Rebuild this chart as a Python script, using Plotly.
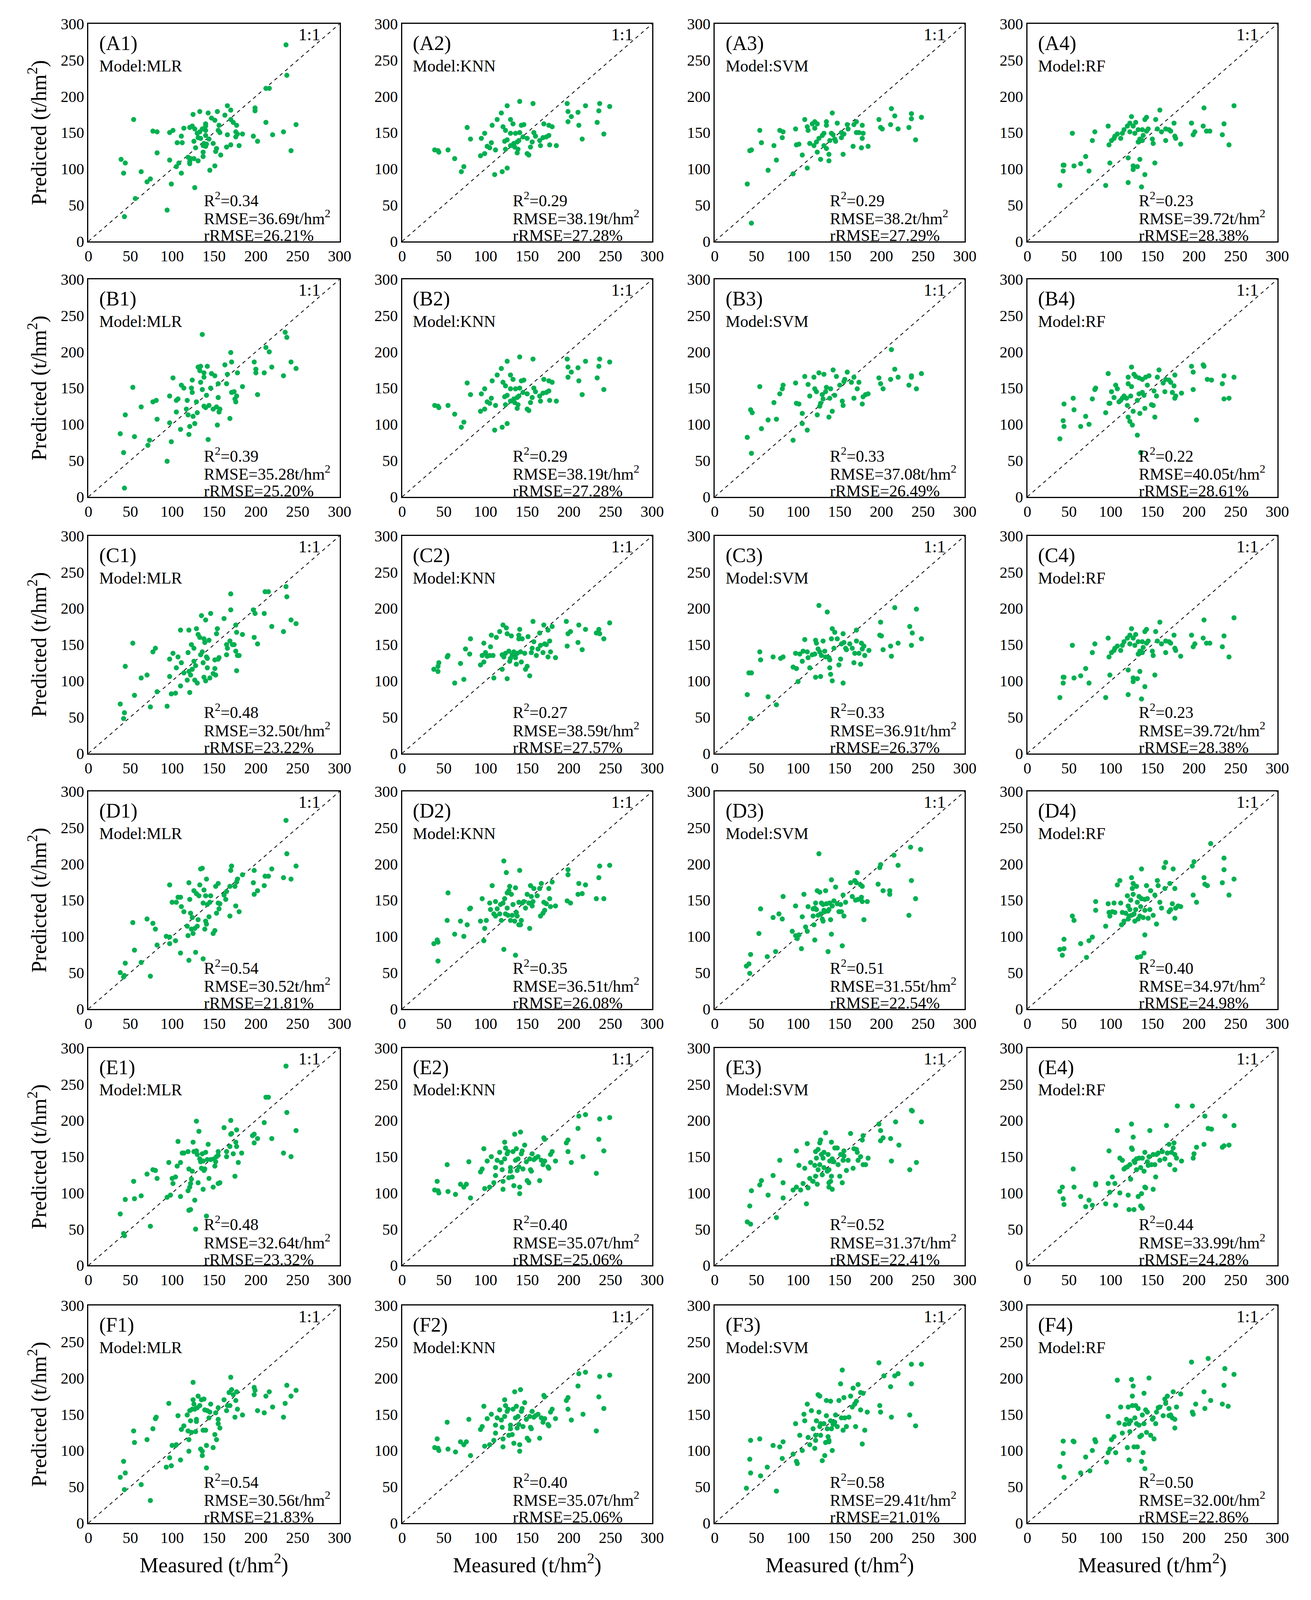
import plotly.graph_objects as go

A1 = [(236,271),(237,229),(212,211),(216,211),(166,187),(170,181),(199,184),(199,180),(133,179),(154,179),(143,177),(125,175),(163,174),(147,170),(151,167),(54,168),(170,168),(173,164),(212,164),(248,161),(140,162),(156,160),(177,160),(140,159),(124,159),(121,157),(114,156),(127,155),(136,155),(155,153),(140,153),(77,152),(82,151),(101,153),(97,150),(133,151),(130,149),(157,150),(176,151),(178,148),(184,148),(166,147),(220,147),(233,151),(140,146),(111,145),(197,145),(176,144),(131,143),(134,142),(144,141),(202,138),(106,136),(112,136),(126,138),(149,135),(138,135),(141,134),(170,133),(180,132),(137,132),(140,131),(165,130),(128,129),(153,128),(152,124),(82,122),(137,123),(242,125),(158,119),(137,117),(119,116),(126,114),(122,114),(39,113),(97,112),(131,111),(121,110),(44,108),(121,107),(108,108),(151,104),(105,103),(145,98),(63,96),(42,94),(111,94),(74,86),(70,82),(99,79),(127,74),(56,59),(94,43),(43,34)]
A2 = [(39,126),(44,123),(43,125),(55,126),(63,114),(74,103),(71,96),(78,157),(82,141),(94,118),(99,121),(99,149),(95,142),(102,131),(107,136),(105,129),(111,92),(112,126),(108,160),(114,168),(119,177),(126,187),(120,96),(126,101),(121,158),(124,153),(130,168),(133,162),(123,138),(126,140),(124,127),(130,132),(134,135),(138,137),(140,139),(135,130),(139,127),(138,122),(130,149),(136,149),(141,150),(141,193),(143,160),(146,161),(145,144),(150,142),(150,121),(152,119),(154,130),(156,137),(157,190),(158,150),(160,145),(165,139),(166,132),(169,143),(173,144),(176,146),(180,158),(170,162),(176,160),(177,133),(185,132),(198,190),(199,179),(199,165),(203,172),(211,178),(212,160),(216,141),(220,187),(234,164),(236,180),(237,190),(242,148),(249,186)]
A3 = [(39,79),(44,25),(42,125),(44,126),(54,153),(56,136),(64,98),(71,132),(74,112),(78,153),(82,151),(81,143),(94,93),(97,155),(98,133),(101,134),(105,119),(108,168),(111,101),(111,158),(112,153),(114,135),(117,162),(120,165),(120,156),(123,162),(119,132),(122,137),(123,123),(125,142),(127,113),(129,146),(131,149),(131,132),(134,160),(134,165),(134,128),(137,111),(137,120),(138,139),(141,177),(140,149),(142,147),(144,141),(145,138),(147,163),(154,120),(152,143),(152,150),(155,148),(159,161),(160,155),(166,131),(167,161),(170,165),(170,150),(173,150),(176,129),(177,160),(177,142),(178,149),(184,131),(197,168),(199,157),(201,155),(211,161),(212,183),(216,173),(220,155),(233,157),(236,176),(236,169),(241,140),(248,171)]
A4 = [(39,77),(43,105),(44,105),(43,97),(54,149),(56,104),(64,107),(70,117),(74,97),(78,139),(81,151),(94,77),(97,159),(98,133),(99,108),(101,139),(105,145),(104,142),(108,148),(112,142),(114,149),(116,154),(120,159),(121,115),(121,81),(123,163),(123,151),(125,172),(127,159),(127,104),(127,99),(129,149),(130,164),(132,103),(133,154),(135,113),(133,137),(135,141),(137,75),(138,154),(138,139),(139,146),(141,168),(143,171),(141,92),(143,152),(145,155),(150,141),(151,135),(153,108),(154,168),(156,155),(159,181),(161,151),(166,155),(166,139),(170,154),(172,152),(176,163),(177,145),(178,142),(184,134),(197,163),(199,147),(201,151),(212,184),(211,159),(215,152),(219,152),(236,162),(234,147),(242,133),(248,187)]
B1 = [(43,12),(42,61),(38,87),(44,113),(53,151),(55,83),(63,124),(71,71),(73,78),(77,131),(81,133),(82,107),(94,49),(97,102),(99,76),(97,139),(101,164),(105,133),(107,135),(105,117),(110,93),(111,154),(114,150),(117,121),(118,133),(120,86),(121,97),(119,113),(123,150),(124,144),(124,161),(125,111),(127,101),(129,131),(130,116),(131,179),(134,180),(136,224),(133,174),(134,158),(136,148),(138,171),(138,165),(138,125),(140,123),(141,140),(143,79),(144,126),(142,180),(146,150),(147,170),(149,121),(151,167),(153,124),(154,99),(155,156),(157,121),(156,117),(155,137),(163,182),(165,156),(166,169),(170,199),(171,186),(169,108),(171,144),(174,145),(175,135),(176,131),(177,139),(178,171),(184,152),(198,186),(200,176),(202,141),(200,171),(210,171),(212,206),(216,200),(219,179),(233,167),(235,227),(237,220),(242,186),(248,177)]
B3 = [(39,82),(44,60),(43,120),(45,116),(54,152),(56,94),(64,106),(71,130),(74,107),(78,142),(81,149),(82,154),(94,78),(97,157),(98,129),(101,128),(105,115),(105,101),(108,166),(111,92),(112,155),(114,139),(119,165),(120,149),(122,145),(123,113),(125,171),(126,125),(127,129),(129,141),(131,169),(130,135),(133,145),(134,151),(137,110),(138,136),(139,149),(141,118),(142,175),(144,140),(146,166),(150,154),(153,132),(154,126),(155,159),(156,162),(159,172),(164,158),(167,165),(167,136),(171,149),(173,158),(177,128),(178,138),(181,141),(184,142),(197,164),(199,156),(202,149),(211,162),(212,203),(216,176),(220,165),(233,154),(236,167),(236,165),(242,149),(248,170)]
B4 = [(39,80),(43,105),(44,97),(44,128),(55,136),(56,120),(64,97),(70,111),(74,100),(78,135),(81,148),(82,150),(94,116),(97,170),(98,129),(99,129),(101,145),(104,137),(106,154),(108,149),(110,131),(112,133),(114,136),(116,139),(119,136),(120,126),(121,165),(121,156),(121,110),(123,104),(124,139),(125,179),(125,152),(126,99),(127,118),(128,169),(130,166),(132,133),(132,85),(134,164),(134,142),(135,115),(136,61),(138,162),(138,144),(140,140),(141,122),(142,165),(144,154),(146,167),(149,127),(151,126),(152,146),(153,110),(155,139),(156,165),(158,175),(163,157),(165,145),(166,162),(170,161),(172,158),(174,144),(176,153),(177,136),(178,139),(177,168),(185,143),(197,180),(199,172),(199,148),(203,106),(211,182),(212,180),(216,162),(221,161),(234,156),(236,167),(236,135),(242,136),(248,165)]
C1 = [(38,68),(43,56),(42,48),(44,120),(53,152),(55,80),(63,104),(70,108),(74,64),(77,140),(80,145),(82,85),(94,65),(97,130),(97,106),(99,82),(101,138),(104,83),(105,118),(107,133),(110,170),(110,93),(111,125),(114,111),(118,101),(119,139),(120,113),(120,170),(121,84),(122,108),(123,150),(124,116),(126,145),(126,127),(127,101),(128,121),(129,172),(130,97),(131,164),(133,160),(134,136),(135,190),(136,140),(137,125),(138,105),(138,158),(139,153),(140,100),(140,184),(141,133),(142,131),(142,118),(144,156),(145,104),(146,193),(149,110),(151,129),(151,117),(152,108),(153,165),(154,172),(155,130),(156,132),(162,186),(165,150),(165,136),(166,145),(169,155),(170,220),(170,198),(172,150),(174,150),(176,177),(176,141),(178,135),(177,167),(177,114),(180,135),(184,164),(197,198),(198,160),(199,193),(202,151),(210,193),(211,223),(215,223),(219,175),(233,168),(236,230),(237,216),(242,184),(248,179)]
C2 = [(38,116),(43,113),(43,120),(44,125),(54,133),(55,135),(63,97),(70,124),(74,102),(76,144),(81,137),(82,158),(94,122),(96,135),(98,126),(98,152),(100,139),(102,134),(105,135),(106,147),(107,163),(109,135),(110,104),(113,160),(117,168),(121,177),(120,136),(120,116),(122,133),(124,138),(125,173),(126,165),(126,103),(128,141),(129,127),(130,131),(131,162),(132,136),(134,140),(136,132),(137,123),(138,138),(140,163),(140,158),(141,171),(142,140),(143,126),(144,158),(147,138),(148,116),(150,120),(151,161),(153,107),(155,139),(156,145),(157,182),(158,154),(161,135),(163,144),(165,166),(166,149),(169,139),(170,177),(171,151),(173,150),(175,170),(175,133),(177,155),(178,140),(180,175),(184,132),(197,182),(198,148),(199,165),(202,168),(212,177),(211,153),(216,143),(220,171),(233,166),(236,171),(237,165),(242,158),(249,180)]
C3 = [(39,81),(41,111),(44,111),(43,48),(54,140),(55,129),(64,78),(70,133),(74,67),(79,131),(82,133),(94,119),(98,117),(97,138),(100,99),(102,137),(105,127),(106,141),(108,157),(111,140),(112,132),(114,118),(117,136),(120,137),(121,105),(121,156),(122,152),(124,144),(125,204),(127,106),(126,140),(128,135),(130,155),(132,141),(133,133),(135,195),(137,132),(138,118),(138,129),(139,109),(141,172),(140,158),(141,100),(143,145),(144,167),(147,158),(149,122),(151,130),(152,151),(154,165),(155,153),(157,145),(158,143),(154,97),(162,151),(165,145),(167,125),(168,138),(170,155),(170,170),(173,138),(175,123),(176,152),(177,144),(179,148),(180,135),(185,142),(198,163),(199,181),(200,162),(202,143),(211,148),(212,134),(216,201),(220,152),(234,175),(236,149),(237,166),(242,199),(248,158)]
D1 = [(38,50),(43,46),(42,44),(44,63),(53,119),(55,81),(63,64),(70,124),(74,45),(77,118),(80,110),(82,88),(93,100),(97,99),(97,90),(97,171),(100,147),(104,94),(105,147),(107,154),(110,77),(110,154),(111,141),(114,134),(118,114),(119,101),(120,67),(120,174),(121,151),(122,132),(123,110),(124,126),(125,104),(126,163),(127,111),(128,78),(129,159),(130,114),(131,123),(132,156),(133,171),(134,193),(136,194),(137,146),(137,69),(138,164),(139,110),(140,121),(140,156),(141,117),(141,179),(142,144),(144,127),(145,147),(146,156),(149,104),(151,108),(152,169),(153,132),(155,146),(155,173),(156,138),(157,145),(162,157),(164,151),(165,162),(169,128),(170,191),(171,197),(169,169),(175,169),(176,142),(177,175),(178,179),(180,134),(184,185),(197,174),(198,191),(198,158),(202,163),(210,170),(211,183),(215,183),(219,193),(233,181),(236,260),(237,214),(242,179),(248,197)]
D2 = [(38,90),(42,95),(43,92),(43,66),(54,122),(55,160),(63,103),(70,121),(74,100),(78,116),(81,138),(82,139),(94,121),(96,152),(98,94),(99,111),(101,122),(105,146),(106,137),(108,170),(110,131),(112,128),(112,148),(114,138),(117,131),(118,144),(119,122),(121,146),(122,204),(122,82),(123,152),(124,131),(125,188),(126,139),(126,160),(127,129),(128,163),(129,169),(130,122),(131,158),(132,129),(133,144),(135,121),(136,167),(136,74),(137,133),(138,128),(140,116),(140,147),(141,191),(142,116),(143,122),(144,146),(146,148),(148,139),(150,158),(152,146),(153,111),(154,170),(155,155),(156,142),(157,148),(158,166),(162,156),(165,166),(166,128),(167,173),(169,132),(170,147),(171,136),(173,145),(176,166),(177,152),(178,141),(180,175),(184,142),(198,149),(199,192),(199,185),(202,146),(211,158),(212,173),(216,159),(220,171),(233,152),(236,181),(237,197),(242,152),(249,198)]
D3 = [(38,59),(41,62),(43,75),(42,49),(53,104),(55,138),(63,72),(70,126),(73,79),(77,131),(81,124),(82,155),(93,107),(97,142),(97,101),(99,97),(101,102),(104,83),(105,127),(107,158),(109,113),(111,107),(112,141),(118,128),(118,138),(119,116),(120,139),(120,95),(121,146),(122,137),(123,163),(124,129),(125,214),(126,161),(127,131),(128,146),(129,124),(130,121),(130,144),(131,136),(132,134),(133,163),(134,145),(136,135),(136,79),(137,137),(138,146),(139,123),(140,178),(140,103),(141,142),(143,149),(145,168),(147,145),(149,134),(151,144),(152,134),(154,157),(153,87),(155,128),(157,147),(163,174),(165,155),(168,177),(169,150),(170,174),(171,188),(172,151),(175,171),(176,154),(177,148),(179,123),(177,169),(183,148),(196,172),(198,195),(199,199),(202,163),(210,163),(210,158),(215,212),(220,198),(233,129),(235,223),(236,177),(241,152),(247,220)]
D4 = [(39,82),(42,74),(44,83),(44,96),(54,128),(56,122),(64,90),(71,71),(74,94),(78,99),(82,148),(82,136),(94,114),(97,145),(98,133),(99,128),(102,134),(104,146),(105,133),(108,171),(111,177),(112,146),(113,116),(114,133),(116,121),(118,132),(120,156),(121,124),(121,142),(122,128),(123,137),(124,150),(125,129),(125,181),(126,166),(127,173),(127,158),(128,131),(129,121),(130,137),(131,169),(132,147),(132,71),(133,124),(134,155),(135,128),(136,141),(136,72),(137,193),(137,152),(139,126),(140,77),(141,151),(141,136),(141,102),(143,170),(144,152),(145,125),(147,137),(148,163),(151,129),(153,157),(155,117),(156,177),(157,170),(159,147),(161,139),(164,195),(165,166),(166,202),(170,134),(171,173),(172,137),(174,145),(175,193),(177,125),(177,166),(178,139),(181,142),(184,141),(198,197),(199,157),(200,203),(203,147),(212,181),(213,172),(216,170),(220,228),(234,174),(236,208),(236,192),(242,157),(248,179)]
E1 = [(38,71),(42,44),(43,41),(44,91),(54,116),(55,92),(63,96),(70,126),(74,54),(77,132),(80,131),(82,120),(94,94),(96,142),(98,97),(100,120),(101,113),(104,122),(106,137),(107,171),(110,95),(110,142),(112,155),(114,155),(119,157),(120,133),(120,76),(122,77),(119,103),(121,108),(122,113),(123,119),(124,130),(125,170),(126,157),(127,90),(128,50),(129,158),(129,199),(130,153),(131,114),(132,185),(133,147),(134,143),(135,134),(136,154),(137,144),(137,105),(138,131),(139,133),(140,156),(141,68),(142,146),(143,167),(144,120),(146,146),(149,108),(150,147),(151,137),(152,143),(153,150),(155,152),(155,157),(155,113),(157,114),(162,190),(165,150),(165,157),(169,164),(170,181),(170,200),(171,182),(173,154),(175,123),(176,170),(177,187),(177,164),(179,142),(183,155),(196,179),(198,181),(198,169),(202,175),(210,197),(212,232),(215,232),(219,175),(233,155),(236,275),(237,211),(242,150),(248,186)]
E2 = [(39,104),(42,116),(43,103),(44,100),(54,139),(55,102),(64,98),(70,112),(74,108),(77,112),(80,143),(82,93),(94,129),(96,133),(98,161),(99,106),(102,144),(105,108),(107,150),(110,114),(112,124),(112,135),(114,145),(117,156),(119,142),(120,132),(121,116),(121,105),(123,170),(123,147),(124,162),(126,154),(127,157),(128,121),(130,130),(130,135),(132,122),(133,157),(134,110),(135,181),(136,145),(137,161),(138,131),(139,147),(140,136),(141,108),(141,99),(142,184),(143,154),(144,158),(145,133),(147,166),(149,143),(150,117),(152,114),(153,147),(154,132),(155,130),(156,154),(158,146),(160,148),(163,150),(165,117),(167,145),(169,139),(170,176),(171,174),(171,144),(175,136),(176,134),(178,153),(180,157),(184,144),(197,169),(199,173),(199,157),(203,142),(211,189),(212,206),(220,208),(217,150),(233,127),(236,174),(237,202),(242,158),(249,204)]
E3 = [(39,60),(43,57),(42,82),(44,103),(54,111),(56,117),(64,97),(70,124),(74,66),(78,145),(82,114),(82,93),(94,104),(98,108),(98,158),(101,138),(103,104),(106,113),(108,134),(111,168),(110,85),(112,107),(114,120),(115,142),(118,116),(120,138),(121,123),(121,157),(122,148),(123,112),(124,160),(124,132),(126,169),(126,139),(127,173),(128,153),(129,125),(130,148),(131,135),(131,156),(133,183),(135,130),(136,153),(137,114),(137,108),(137,132),(138,144),(139,116),(140,123),(140,170),(141,105),(141,147),(143,143),(144,162),(147,162),(148,139),(150,123),(151,153),(153,114),(154,145),(155,158),(155,151),(158,131),(160,145),(163,182),(166,134),(167,161),(170,160),(171,156),(172,145),(175,150),(177,173),(178,179),(178,139),(181,139),(184,148),(197,195),(199,186),(199,172),(202,176),(211,175),(212,144),(217,198),(221,166),(234,132),(236,214),(237,213),(242,142),(248,198)]
E4 = [(39,102),(42,108),(43,92),(44,84),(55,133),(56,108),(64,95),(70,81),(74,90),(78,83),(82,113),(82,111),(94,85),(97,113),(98,158),(99,101),(102,122),(105,113),(106,83),(108,186),(111,100),(111,148),(114,145),(116,133),(118,135),(120,136),(121,97),(122,77),(123,139),(124,119),(125,195),(125,162),(126,160),(127,177),(128,144),(128,77),(129,142),(131,147),(131,132),(133,95),(134,148),(136,82),(136,135),(137,99),(138,79),(138,148),(140,130),(141,108),(141,156),(142,107),(144,143),(145,138),(146,150),(147,186),(149,139),(151,153),(151,105),(153,139),(154,122),(155,153),(157,155),(159,145),(162,157),(165,147),(167,193),(168,155),(170,167),(171,139),(173,156),(175,162),(176,169),(177,153),(177,132),(179,148),(180,220),(185,144),(198,220),(199,148),(200,154),(203,163),(212,167),(213,206),(217,189),(221,188),(234,163),(236,165),(237,206),(242,166),(248,193)]
F1 = [(38,63),(43,46),(42,85),(44,69),(54,127),(55,111),(63,53),(70,115),(74,31),(77,130),(80,144),(81,146),(93,77),(96,165),(97,90),(99,79),(100,107),(104,107),(105,108),(107,148),(110,87),(111,129),(114,134),(118,149),(119,127),(120,99),(120,115),(121,155),(122,141),(123,125),(124,157),(125,194),(125,170),(126,164),(127,157),(128,126),(129,140),(129,143),(130,159),(131,175),(133,162),(134,102),(135,170),(136,93),(136,99),(137,128),(138,171),(139,156),(140,128),(141,76),(141,107),(142,155),(144,145),(145,153),(146,164),(149,104),(151,122),(152,152),(153,115),(155,143),(155,137),(157,131),(155,159),(162,170),(165,155),(166,162),(168,180),(170,201),(169,162),(171,184),(173,177),(175,146),(176,169),(177,181),(178,157),(184,149),(198,187),(198,177),(199,183),(202,155),(210,152),(212,175),(216,181),(220,160),(233,146),(235,165),(237,190),(242,175),(248,183)]
F3 = [(38,48),(42,88),(43,69),(43,114),(54,116),(55,65),(63,77),(70,107),(74,44),(78,105),(81,89),(82,112),(94,95),(97,137),(98,85),(99,82),(102,121),(105,100),(107,150),(108,141),(111,164),(112,118),(114,108),(116,155),(118,130),(120,103),(121,121),(121,114),(122,141),(124,177),(125,153),(126,175),(126,133),(127,137),(127,121),(129,86),(131,137),(132,93),(133,111),(134,169),(134,148),(135,130),(136,119),(137,112),(137,114),(139,168),(139,141),(140,130),(141,100),(142,136),(144,139),(145,149),(147,133),(149,169),(151,192),(152,145),(153,211),(154,128),(155,173),(156,145),(158,133),(161,146),(163,175),(165,160),(166,186),(168,164),(169,133),(170,168),(172,191),(175,180),(175,156),(177,109),(178,179),(180,128),(183,153),(197,221),(198,162),(199,153),(203,203),(212,146),(211,188),(216,203),(220,206),(234,149),(236,192),(236,219),(241,134),(248,219)]
F4 = [(39,78),(43,96),(44,63),(43,113),(55,113),(56,112),(64,69),(70,91),(75,72),(78,100),(81,115),(82,112),(95,84),(97,97),(99,102),(97,147),(101,115),(104,119),(106,97),(108,197),(110,138),(112,160),(114,124),(117,136),(119,143),(120,104),(121,160),(122,87),(122,137),(123,126),(124,141),(125,198),(126,175),(126,162),(127,189),(128,105),(129,145),(130,162),(131,137),(132,105),(133,158),(134,135),(135,119),(137,85),(137,121),(138,149),(139,97),(140,179),(140,137),(141,75),(142,156),(143,125),(144,153),(146,200),(148,121),(150,143),(151,145),(152,116),(154,137),(155,153),(157,159),(159,160),(163,148),(165,171),(166,165),(168,175),(170,148),(170,158),(172,149),(174,145),(175,181),(177,143),(177,131),(179,160),(184,178),(197,222),(198,153),(199,150),(202,164),(212,181),(213,158),(217,227),(220,169),(234,164),(236,190),(237,213),(241,161),(248,205)]

panel_data = [[A1, A2, A3, A4], [B1, A2, B3, B4], [C1, C2, C3, A4],
              [D1, D2, D3, D4], [E1, E2, E3, E4], [F1, E2, F3, F4]]
row_letters = ["A", "B", "C", "D", "E", "F"]
models = ["MLR", "KNN", "SVM", "RF"]
r2 = [["0.34", "0.29", "0.29", "0.23"], ["0.39", "0.29", "0.33", "0.22"],
      ["0.48", "0.27", "0.33", "0.23"], ["0.54", "0.35", "0.51", "0.40"],
      ["0.48", "0.40", "0.52", "0.44"], ["0.54", "0.40", "0.58", "0.50"]]
rmse = [["36.69", "38.19", "38.2", "39.72"], ["35.28", "38.19", "37.08", "40.05"],
        ["32.50", "38.59", "36.91", "39.72"], ["30.52", "36.51", "31.55", "34.97"],
        ["32.64", "35.07", "31.37", "33.99"], ["30.56", "35.07", "29.41", "32.00"]]
rrmse = [["26.21", "27.28", "27.29", "28.38"], ["25.20", "27.28", "26.49", "28.61"],
         ["23.22", "27.57", "26.37", "28.38"], ["21.81", "26.08", "22.54", "24.98"],
         ["23.32", "25.06", "22.41", "24.28"], ["21.83", "25.06", "21.01", "22.86"]]
ticks = [0, 50, 100, 150, 200, 250, 300]

W, H = 3357, 4548
col_px = [(212, 866), (1029, 1680), (1843, 2494), (2657, 3308)]
row_px = [(35, 663), (773, 1401), (1514, 2142), (2252, 2880), (2993, 3621), (3737, 4365)]
stat_x = [137, 132, 137, 133]
FONT = "Liberation Serif, Times New Roman, serif"
GREEN = "#00B050"

fig = go.Figure()
annotations = []
for r in range(6):
    for c in range(4):
        k = r * 4 + c + 1
        xa = "x" if k == 1 else f"x{k}"
        ya = "y" if k == 1 else f"y{k}"
        pts = panel_data[r][c]
        fig.add_trace(go.Scatter(x=[0, 300], y=[0, 300], mode="lines",
                                 line=dict(color="black", width=2, dash="dash"),
                                 xaxis=xa, yaxis=ya, showlegend=False, hoverinfo="skip"))
        fig.add_trace(go.Scatter(x=[p[0] for p in pts], y=[p[1] for p in pts], mode="markers",
                                 marker=dict(color=GREEN, size=13),
                                 xaxis=xa, yaxis=ya, showlegend=False))
        x0, x1 = col_px[c]
        y0, y1 = row_px[r]
        axis_common = dict(range=[0, 300], tickvals=ticks, showgrid=False, zeroline=False,
                           showline=True, mirror=True, linecolor="black", linewidth=3,
                           ticks="", tickfont=dict(family=FONT, size=40, color="black"))
        xkw = dict(axis_common, domain=[x0 / W, x1 / W], anchor=ya)
        ykw = dict(axis_common, domain=[1 - y1 / H, 1 - y0 / H], anchor=xa)
        if c == 0:
            ykw["title"] = dict(text="Predicted (t/hm<sup>2</sup>)", standoff=20,
                                font=dict(family=FONT, size=54, color="black"))
        if r == 5:
            xkw["title"] = dict(text="Measured (t/hm<sup>2</sup>)", standoff=30,
                                font=dict(family=FONT, size=54, color="black"))
        fig.update_layout(**{("xaxis" if k == 1 else f"xaxis{k}"): xkw,
                             ("yaxis" if k == 1 else f"yaxis{k}"): ykw})

        def ann(x, y, text, size, xanchor="left"):
            annotations.append(dict(x=x, y=y, xref=xa, yref=ya, text=text, showarrow=False,
                                    xanchor=xanchor, yanchor="middle",
                                    font=dict(family=FONT, size=size, color="black")))
        ann(12, 273, f"({row_letters[r]}{c + 1})", 52)
        ann(12, 242, f"Model:{models[c]}", 42)
        ann(278, 285, "1:1", 44, xanchor="right")
        ann(stat_x[c], 58, f"R<sup>2</sup>={r2[r][c]}", 42)
        ann(stat_x[c], 33, f"RMSE={rmse[r][c]}t/hm<sup>2</sup>", 42)
        ann(stat_x[c], 8, f"rRMSE={rrmse[r][c]}%", 42)

fig.update_layout(autosize=True, margin=dict(l=0, r=0, t=0, b=0),
                  paper_bgcolor="white", plot_bgcolor="white", annotations=annotations)
fig.write_html("out.html", default_width="100%", default_height="calc(100vh - 20px)",
               config={"responsive": True})
